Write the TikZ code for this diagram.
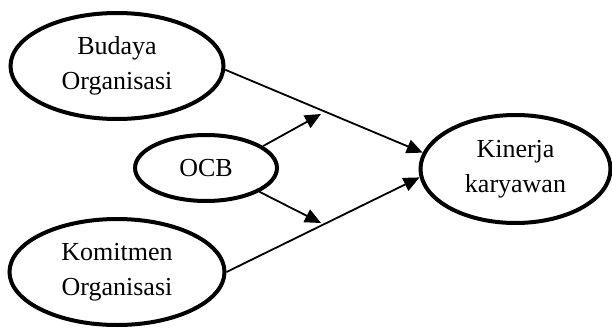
\documentclass[tikz,border=0pt]{standalone}
\usepackage{fontspec}
\setmainfont{Liberation Serif}
\usetikzlibrary{shapes.geometric,arrows.meta}
\begin{document}
\begin{tikzpicture}[x=1pt,y=-1pt,
  var/.style={ellipse,draw,line width=4pt,inner sep=0pt,align=center,
    font=\fontsize{26}{35}\selectfont},
  link/.style={line width=1.8pt,-{Triangle[length=16pt,width=14pt]}}]
\useasboundingbox (0,0) rectangle (612,329);
\node[var,minimum width=213pt,minimum height=106pt] (bud) at (117,66) {Budaya\\Organisasi};
\node[var,minimum width=215pt,minimum height=106pt] (kom) at (117,272) {Komitmen\\Organisasi};
\node[var,minimum width=142pt,minimum height=66pt] (ocb) at (206,168) {OCB};
\node[var,minimum width=190pt,minimum height=108pt] (kin) at (515.5,169) {Kinerja\\karyawan};
\coordinate (t1) at (321,114);
\coordinate (t2) at (321,223);
\draw[link] (bud.-2) -- (kin.170);
\draw[link] (kom.east) -- (kin.185);
\draw[link] (ocb.21) -- (t1);
\draw[link] (ocb.-24) -- (t2);
\end{tikzpicture}
\end{document}
